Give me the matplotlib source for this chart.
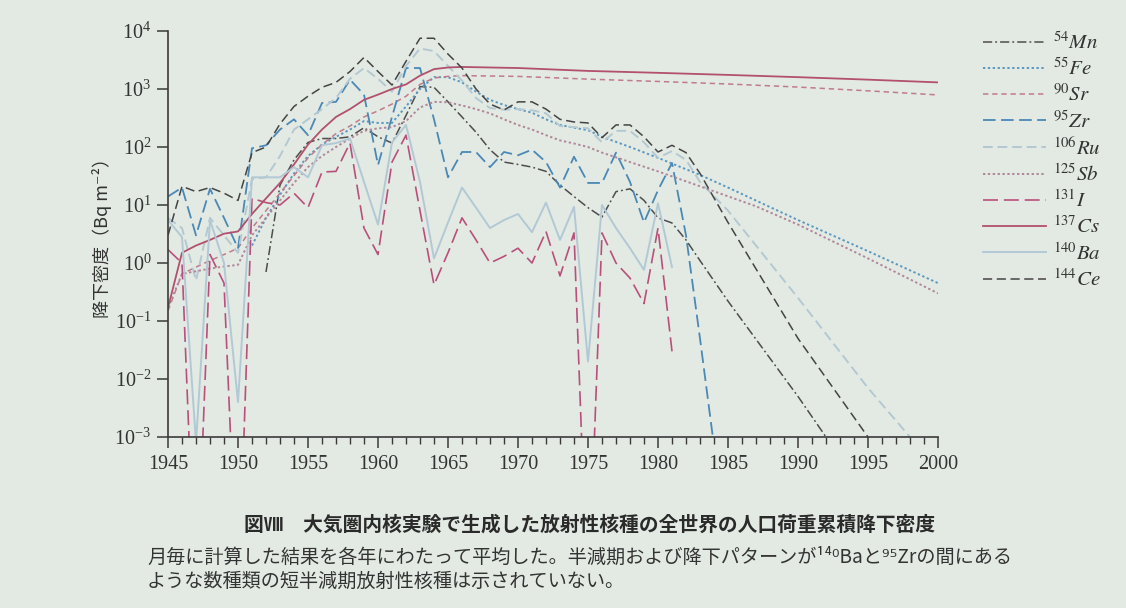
import matplotlib
matplotlib.use("Agg")
import matplotlib.pyplot as plt
from matplotlib.ticker import MultipleLocator, NullLocator

plt.rcParams['mathtext.fontset'] = 'stix'
plt.rcParams['font.family'] = ['Liberation Serif', 'DejaVu Serif']

# ---------------- data ----------------
cs_years = list(range(1945, 1967)) + [1970, 1975, 1980, 1985, 1990, 1995, 2000]
cs_vals = [0.17, 1.5, 2.0, 2.5, 3.2, 3.5, 7, 13, 24, 50, 110, 200, 330, 450, 650, 800,
           1000, 1200, 1700, 2200, 2350, 2400, 2300, 2050, 1900, 1750, 1600, 1450, 1300]

sr_years = list(range(1945, 1967)) + [1970, 1975, 1980, 1985, 1990, 1995, 2000]
sr_vals = [0.15, 0.65, 0.85, 1.1, 1.4, 1.8, 4, 8, 16, 32, 65, 110, 170, 230, 330, 420,
           550, 750, 1200, 1550, 1650, 1700, 1650, 1480, 1350, 1220, 1080, 930, 790]

sb_years = list(range(1945, 1976)) + [1976, 1978, 1980, 1983, 1987, 1990, 1995, 2000]
sb_vals = [0.17, 0.65, 0.72, 0.8, 0.87, 0.93, 3, 6, 12, 24, 45, 70, 100, 140, 190, 210,
           220, 280, 480, 600, 590, 520, 450, 380, 300, 240, 200, 160, 130, 115, 100,
           80, 55, 38, 21, 9.5, 4.6, 1.2, 0.3]

fe_years = list(range(1951, 1976)) + [1976, 1978, 1980, 1983, 1985, 1990, 1995, 2000]
fe_vals = [2, 6, 15, 35, 70, 110, 150, 200, 280, 260, 260, 500, 1000, 1600, 1600, 1300,
           900, 650, 530, 450, 390, 300, 240, 215, 195, 150, 100, 65, 33, 20, 5.5, 1.6, 0.45]

mn_years = list(range(1952, 1984)) + [1985, 1990, 1992]
mn_vals = [0.7, 22, 60, 120, 140, 140, 150, 215, 150, 117, 350, 1100, 1070, 600, 330,
           180, 90, 55, 50, 45, 38, 22, 14, 9, 6.2, 17, 19, 12, 6, 4.9, 2.5, 1.1,
           0.22, 0.005, 0.001]

ce_years = list(range(1945, 1984)) + [1985, 1990, 1995]
ce_vals = [3, 21, 17, 20, 16, 12, 80, 100, 250, 500, 750, 1070, 1300, 2000, 3500, 2000,
           1170, 3000, 7500, 7500, 4000, 2300, 1000, 550, 435, 600, 600, 450, 300, 270,
           260, 145, 240, 240, 150, 82, 107, 80, 35, 5, 0.05, 0.001]

ru_years = list(range(1945, 1984)) + [1985, 1990, 1995, 1998]
ru_vals = [6, 4, 0.5, 6, 3, 1.5, 28, 30, 70, 200, 300, 450, 700, 1500, 2300, 1500, 900,
           2500, 5000, 4500, 2500, 1400, 700, 470, 440, 450, 430, 380, 230, 220, 210,
           120, 190, 190, 120, 65, 85, 60, 25, 8, 0.25, 0.007, 0.001]

zr_years = list(range(1945, 1985))
zr_vals = [14, 20, 3, 19, 6, 1.8, 95, 107, 200, 300, 160, 575, 600, 1450, 800, 49, 330,
           2300, 2300, 300, 30, 82, 82, 45, 82, 72, 90, 55, 20, 68, 24, 24, 80, 25, 5,
           18, 53, 3, 0.05, 0.0007]

ba_years = list(range(1945, 1982))
ba_vals = [5.5, 2.8, 0.0008, 5.5, 1.0, 0.004, 30, 30, 30, 45, 30, 107, 117, 140, 25,
           4.6, 120, 240, 25, 1.2, 5, 20, 9, 4, 5.5, 7, 3.4, 11, 2.5, 9.3, 0.02, 10, 4,
           1.8, 0.76, 10.7, 0.85]

i_years = list(range(1945, 1982))
i_vals = [1.7, 1.0, 1e-6, 1.4, 0.45, 1e-6, 13, 11, 10, 16, 9, 37, 38, 117, 4, 1.4, 55,
          160, 8, 0.42, 1.5, 6, 2.5, 1.0, 1.3, 1.8, 1.0, 3.5, 0.6, 3.3, 1e-6, 3.3, 1.0,
          0.55, 0.2, 4, 0.03]

labels = [r'$^{54}Mn$', r'$^{55}Fe$', r'$^{90}Sr$', r'$^{95}Zr$', r'$^{106}Ru$',
          r'$^{125}Sb$', r'$^{131}I$', r'$^{137}Cs$', r'$^{140}Ba$', r'$^{144}Ce$']

ytick_vals = [1e-3, 1e-2, 1e-1, 1e0, 1e1, 1e2, 1e3, 1e4]

caption_title = '図Ⅷ　大気圏内核実験で生成した放射性核種の全世界の人口荷重累積降下密度'
caption_line1 = '月毎に計算した結果を各年にわたって平均した。半減期および降下パターンが¹⁴⁰Baと⁹⁵Zrの間にある'
caption_line2 = 'ような数種類の短半減期放射性核種は示されていない。'
ylabel_text = '降下密度（Bq m⁻²）'

# ---------------- figure ----------------
bg = '#e3eae3'
txt = '#333333'
fig = plt.figure(figsize=(11.26, 6.08), dpi=100, facecolor=bg)
ax = fig.add_axes([168/1126, 1-437/608, (938-168)/1126, (437-31)/608])
ax.set_facecolor(bg)

series = [
    (mn_years, mn_vals, dict(color='#4d4d4d', ls=(0, (6, 2, 1.2, 2)), lw=1.1)),
    (fe_years, fe_vals, dict(color='#5b98c0', ls=(0, (1.2, 1.3)), lw=1.4)),
    (sr_years, sr_vals, dict(color='#c07b8c', ls=(0, (3.5, 2.5)), lw=1.1)),
    (zr_years, zr_vals, dict(color='#4a88b6', ls=(0, (7, 3)), lw=1.3)),
    (ru_years, ru_vals, dict(color='#b4c8d2', ls=(0, (5, 2.5)), lw=1.4)),
    (sb_years, sb_vals, dict(color='#b0879a', ls=(0, (1.2, 1.3)), lw=1.4)),
    (i_years, i_vals, dict(color='#b9507c', ls=(0, (9, 3.5)), lw=1.2)),
    (cs_years, cs_vals, dict(color='#b2506e', ls='-', lw=1.3)),
    (ba_years, ba_vals, dict(color='#b2c9d5', ls='-', lw=1.4)),
    (ce_years, ce_vals, dict(color='#444444', ls=(0, (6, 3)), lw=1.1)),
]
handles = []
for (xs, ys, st), lab in zip(series, labels):
    h, = ax.plot(xs, ys, label=lab, **st)
    handles.append(h)

ax.set_yscale('log')
ax.set_xlim(1945, 2000)
ax.set_ylim(1e-3, 1e4)
ax.set_yticks(ytick_vals)
ax.yaxis.set_minor_locator(NullLocator())
ax.xaxis.set_major_locator(MultipleLocator(5))
ax.xaxis.set_minor_locator(MultipleLocator(1))
for s in ['top', 'right']:
    ax.spines[s].set_visible(False)
for s in ['left', 'bottom']:
    ax.spines[s].set_color('#3a3a3a')
    ax.spines[s].set_linewidth(1.2)
ax.tick_params(axis='both', which='major', direction='out', length=8, width=1.1,
               colors='#3a3a3a', labelsize=14.5, labelcolor=txt)
ax.tick_params(axis='x', which='minor', direction='out', length=5, width=1.0,
               colors='#3a3a3a')
ax.tick_params(axis='y', pad=4)
ax.tick_params(axis='x', pad=5)

ax.set_ylabel(ylabel_text, family=['Noto Sans CJK JP', 'DejaVu Sans'],
              fontsize=13, color=txt, labelpad=2)

leg = fig.legend(handles=handles, loc='upper left',
                 bbox_to_anchor=(975/1126, 1-24/608), frameon=False,
                 fontsize=15, handlelength=3.0, handletextpad=0.35,
                 labelspacing=0.22, borderaxespad=0)
for t in leg.get_texts():
    t.set_color(txt)

fam = ['Noto Sans CJK JP', 'DejaVu Sans']
fig.text(590/1126, 1-525/608, caption_title, family=fam, fontsize=14.2,
         fontweight='bold', ha='center', va='center', color='#2a2a2a')
fig.text(147/1126, 1-557/608, caption_line1, family=fam, fontsize=13.8,
         ha='left', va='center', color=txt)
fig.text(147/1126, 1-581/608, caption_line2, family=fam, fontsize=13.8,
         ha='left', va='center', color=txt)

fig.savefig('out.png', dpi=100, facecolor=bg)
